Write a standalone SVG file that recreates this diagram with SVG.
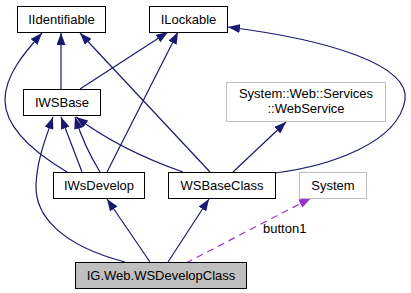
<svg xmlns="http://www.w3.org/2000/svg" width="411" height="293" viewBox="0 0 411 293">
  <style>
    .node rect { fill: #ffffff; stroke: #000000; stroke-width: 1; }
    .node.ext rect { stroke: #bfbfbf; }
    .node.cur rect { fill: #bfbfbf; }
    .node text { font-family: "Liberation Sans", Arial, sans-serif; font-size: 13px; fill: #000000; text-anchor: middle; }
    .edge { fill: none; stroke: #191970; stroke-width: 1.2; marker-end: url(#inh); }
    .use { fill: none; stroke: #9a32cd; stroke-width: 1.2; stroke-dasharray: 7,5; marker-end: url(#usage); }
    .elabel { font-family: "Liberation Sans", Arial, sans-serif; font-size: 13px; fill: #000000; }
  </style>
  <defs>
    <marker id="inh" viewBox="0 0 12 9" refX="12" refY="4.5" markerWidth="12" markerHeight="9" markerUnits="userSpaceOnUse" orient="auto">
      <path d="M0,0 L12,4.5 L0,9 z" fill="#191970"/>
    </marker>
    <marker id="usage" viewBox="0 0 12 9" refX="12" refY="4.5" markerWidth="12" markerHeight="9" markerUnits="userSpaceOnUse" orient="auto">
      <path d="M0,0 L12,4.5 L0,9 z" fill="#9a32cd"/>
    </marker>
  </defs>

  <g id="connectors">
    <path class="edge" d="M61,89 L61,33"/>
    <path class="edge" d="M80,89 L168,32"/>
    <path class="edge" d="M67,172 C 30,150 5,125 5,100 C 5,75 25,52 42,33"/>
    <path class="edge" d="M210,172 L80,33"/>
    <path class="edge" d="M107,172 L178,32"/>
    <path class="edge" d="M275,173 C 330,166 398,143 405,100 C 410,65 330,40 228,27"/>
    <path class="edge" d="M233,172 L286,122"/>
    <path class="edge" d="M125,262 C 60,245 35,215 36,185 C 37,160 45,140 53,117"/>
    <path class="edge" d="M82,172 Q 72,146 61,117"/>
    <path class="edge" d="M100,172 Q 84,146 75,117"/>
    <path class="edge" d="M183,172 Q 120,150 76,117"/>
    <path class="edge" d="M150,262 L107,199"/>
    <path class="edge" d="M168,262 L209,199"/>
    <path class="use" d="M186,263 L311,198"/>
    <text class="elabel" x="263" y="233">button1</text>
  </g>

  <g id="IIdentifiable" class="node">
    <rect x="17.5" y="6.5" width="88" height="26"/>
    <text x="61.5" y="24">IIdentifiable</text>
  </g>
  <g id="ILockable" class="node">
    <rect x="149.5" y="6.5" width="78" height="26"/>
    <text x="188.5" y="24">ILockable</text>
  </g>
  <g id="IWSBase" class="node">
    <rect x="23.5" y="89.5" width="77" height="26"/>
    <text x="62" y="107">IWSBase</text>
  </g>
  <g id="WebService" class="node ext">
    <rect x="226.5" y="82.5" width="159" height="39"/>
    <text x="306" y="98">System::Web::Services</text>
    <text x="306" y="113">::WebService</text>
  </g>
  <g id="IWsDevelop" class="node">
    <rect x="53.5" y="172.5" width="91" height="26"/>
    <text x="99" y="190">IWsDevelop</text>
  </g>
  <g id="WSBaseClass" class="node">
    <rect x="168.5" y="172.5" width="107" height="26"/>
    <text x="222" y="190">WSBaseClass</text>
  </g>
  <g id="System" class="node ext">
    <rect x="299.5" y="172.5" width="67" height="26"/>
    <text x="333" y="190">System</text>
  </g>
  <g id="WSDevelopClass" class="node cur">
    <rect x="75.5" y="262.5" width="171" height="26"/>
    <text x="161" y="280">IG.Web.WSDevelopClass</text>
  </g>
</svg>
